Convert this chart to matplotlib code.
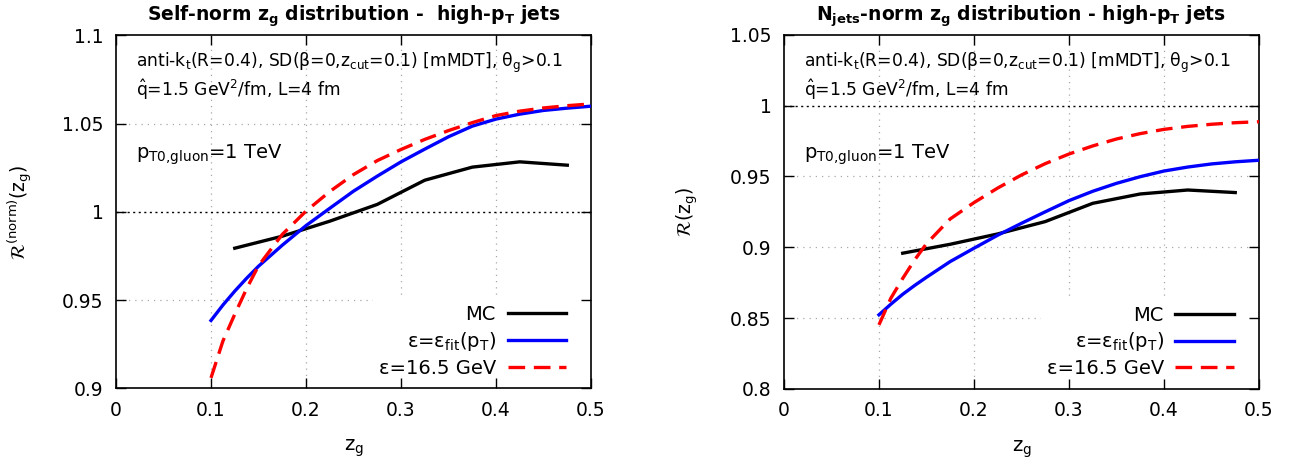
import matplotlib
matplotlib.use('Agg')
import matplotlib.pyplot as plt
import matplotlib.ticker as mticker
from matplotlib.patches import Rectangle

plt.rcParams['font.family'] = ['DejaVu Sans']
plt.rcParams['mathtext.fontset'] = 'dejavusans'
plt.rcParams['mathtext.default'] = 'regular'

# MC points (bin centres)
zg_mc = [0.125, 0.175, 0.225, 0.275, 0.325, 0.375, 0.425, 0.475]
mc_self = [0.9794, 0.9862, 0.9947, 1.0042, 1.0179, 1.0253, 1.0283, 1.0264]
mc_njets = [0.8958, 0.9021, 0.9094, 0.9181, 0.9310, 0.9376, 0.9404, 0.9386]

# analytic curves
zg_an = [0.10, 0.1125, 0.125, 0.1375, 0.15, 0.175, 0.20, 0.225, 0.25, 0.275, 0.30,
         0.325, 0.35, 0.375, 0.40, 0.425, 0.45, 0.475, 0.50]
fit_self = [0.9385, 0.9472, 0.9551, 0.9624, 0.9692, 0.9811, 0.9922, 1.0020, 1.0117, 1.0202, 1.0283,
            1.0355, 1.0425, 1.0485, 1.0525, 1.0553, 1.0574, 1.0587, 1.0598]
eps_self = [0.9060, 0.9268, 0.9420, 0.9565, 0.9695, 0.9872, 1.0004, 1.0115, 1.0211, 1.0290, 1.0353,
            1.0410, 1.0460, 1.0505, 1.0545, 1.0570, 1.0588, 1.0601, 1.0611]
fit_njets = [0.8523, 0.8598, 0.8668, 0.8730, 0.8788, 0.8899, 0.8993, 0.9085, 0.9169, 0.9250, 0.9329,
             0.9395, 0.9451, 0.9498, 0.9538, 0.9566, 0.9588, 0.9603, 0.9614]
eps_njets = [0.8452, 0.8640, 0.8780, 0.8910, 0.9025, 0.9200, 0.9315, 0.9418, 0.9510, 0.9590, 0.9658,
             0.9715, 0.9764, 0.9802, 0.9832, 0.9853, 0.9868, 0.9879, 0.9886]

xticks = [0, 0.1, 0.2, 0.3, 0.4, 0.5]
yticks_self = [0.9, 0.95, 1.0, 1.05, 1.1]
yticks_njets = [0.8, 0.85, 0.9, 0.95, 1.0, 1.05]

labels = ['MC', r'ε=ε$_\mathrm{fit}$(p$_\mathrm{T}$)', 'ε=16.5 GeV']
line1 = r'anti-k$_\mathrm{t}$(R=0.4), SD(β=0,z$_\mathrm{cut}$=0.1) [mMDT], θ$_\mathrm{g}$>0.1'
line2 = r'$\hat{\mathrm{q}}$=1.5 GeV$^\mathrm{2}$/fm, L=4 fm'
line3 = r'p$_\mathrm{T0{,}gluon}$=1 TeV'

fig = plt.figure(figsize=(12.99, 4.63), dpi=100)
ax1 = fig.add_axes([0.0893, 0.161, 0.3657, 0.763])
ax2 = fig.add_axes([0.6035, 0.160, 0.3657, 0.765])


def draw_panel(ax, mc, fit, eps, yticks, ylabel, title):
    ax.set_xlim(xticks[0], xticks[-1])
    ax.set_ylim(yticks[0], yticks[-1])
    ax.set_xticks(xticks)
    ax.set_yticks(yticks)
    fmt = mticker.FuncFormatter(lambda v, p: '%g' % v)
    ax.xaxis.set_major_formatter(fmt)
    ax.yaxis.set_major_formatter(fmt)
    ax.tick_params(direction='in', top=True, right=True, length=7, width=1,
                   labelsize=13.5, pad=9)
    for s in ax.spines.values():
        s.set_linewidth(1.2)

    # grid (gray dotted), y=1 reference in black
    gy = [y for y in yticks[1:-1] if y != 1.0]
    ax.hlines(gy, xticks[0], xticks[-1], colors='#a8a8a8', linestyles=(0, (1, 4)), lw=0.9, zorder=1)
    ax.vlines(xticks[1:-1], yticks[0], yticks[-1], colors='#a8a8a8', linestyles=(0, (1, 4)), lw=0.9, zorder=1)
    ax.axhline(1.0, color='black', ls=(0, (1.5, 2.5)), lw=1.0, zorder=1.3)
    # opaque key area
    ax.add_patch(Rectangle((0.541, 0), 0.459, 0.258, transform=ax.transAxes,
                           fc='white', ec='none', zorder=1.2))

    ax.plot(zg_mc, mc, color='black', lw=2.4, label=labels[0], zorder=3)
    ax.plot(zg_an, fit, color='blue', lw=2.4, label=labels[1], zorder=4)
    ax.plot(zg_an, eps, color='red', lw=2.4, dashes=(5.0, 2.6), label=labels[2], zorder=5)

    ax.legend(loc='lower right', bbox_to_anchor=(0.947, 0.03), markerfirst=False,
              frameon=False, fontsize=14, handlelength=3.0, handletextpad=0.6,
              labelspacing=0.3, borderpad=0, borderaxespad=0)

    ax.text(0.042, 0.909, line1, transform=ax.transAxes, fontsize=12.3, va='baseline')
    ax.text(0.042, 0.828, line2, transform=ax.transAxes, fontsize=12.3, va='baseline')
    ax.text(0.042, 0.650, line3, transform=ax.transAxes, fontsize=14, va='baseline')

    ax.text(0.5, 1.041, title, transform=ax.transAxes, fontsize=13.5, fontweight='bold',
            ha='center', va='baseline')
    ax.text(0.5, -0.17, r'z$_\mathrm{g}$', transform=ax.transAxes, fontsize=14,
            ha='center', va='center')
    ax.text(-0.203, 0.5, ylabel, transform=ax.transAxes, fontsize=13.5,
            ha='center', va='center', rotation=90)


draw_panel(ax1, mc_self, fit_self, eps_self, yticks_self,
           r'$\mathcal{R}^{(\mathrm{norm})}$(z$_\mathrm{g}$)',
           r'Self-norm $\mathbf{z_g}$ distribution -  high-$\mathbf{p_T}$ jets')
draw_panel(ax2, mc_njets, fit_njets, eps_njets, yticks_njets,
           r'$\mathcal{R}$(z$_\mathrm{g}$)',
           r'$\mathbf{N_{jets}}$-norm $\mathbf{z_g}$ distribution - high-$\mathbf{p_T}$ jets')

fig.savefig('out.png', dpi=100)
